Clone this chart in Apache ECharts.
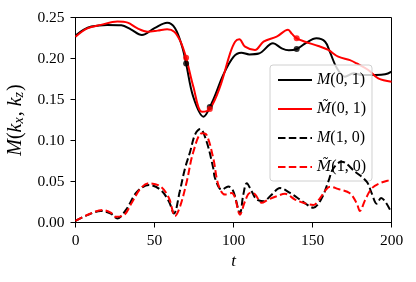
<!DOCTYPE html>
<html><head><meta charset="utf-8">
<script src="https://cdn.jsdelivr.net/npm/echarts@6/dist/echarts.min.js"></script>
<style>html,body{margin:0;padding:0;background:#fff}#c{width:416px;height:282px}</style>
</head><body><div id="c"></div>
<script>
// M(0,1) solid black
const tM01 = [0, 5, 10, 20, 29, 35, 42, 50, 58, 63, 67.5, 70, 74.5, 81, 87, 93.5, 100, 105, 110, 116, 125, 130.5, 135, 140, 145.5, 152.5, 158, 161, 165.5, 170.5, 176, 181, 190, 196, 200];
const vM01 = [0.228, 0.235, 0.239, 0.241, 0.2405, 0.2356, 0.2287, 0.237, 0.2437, 0.237, 0.2144, 0.194, 0.1534, 0.129, 0.149, 0.18, 0.202, 0.207, 0.205, 0.206, 0.2185, 0.2124, 0.210, 0.2116, 0.2185, 0.2246, 0.2205, 0.208, 0.188, 0.1778, 0.182, 0.180, 0.180, 0.1807, 0.184];
// M~(0,1) solid red
const tMt01 = [0, 7.5, 16, 26.5, 33, 39, 45.5, 52, 58, 62.5, 66.5, 70, 74.6, 80, 85, 91.5, 97.8, 101, 103.7, 107.3, 113.6, 119, 127.3, 134.5, 137, 140, 145.3, 153.7, 160, 166.3, 173.7, 178, 185.3, 191.6, 200];
const vMt01 = [0.2266, 0.2368, 0.241, 0.245, 0.2437, 0.237, 0.2327, 0.234, 0.2356, 0.2327, 0.2205, 0.201, 0.1656, 0.135, 0.1384, 0.1656, 0.206, 0.2205, 0.2234, 0.2144, 0.2104, 0.2205, 0.2266, 0.235, 0.230, 0.2246, 0.2205, 0.2152, 0.2104, 0.2022, 0.198, 0.194, 0.186, 0.1758, 0.1717];
// M(1,0) dashed black
const tM10 = [0, 7.5, 16, 22.3, 26.5, 31.8, 39, 46.5, 54, 59.2, 62.3, 66, 69.3, 72.5, 75.6, 79, 83, 87.2, 88.3, 92.5, 96.7, 99.9, 104.1, 106.2, 108.4, 111.5, 114.7, 118.9, 124.2, 129.4, 135.8, 142, 145.3, 150.5, 155.8, 160, 163.2, 168.5, 176.9, 184.3, 187.5, 190.6, 193.4, 199.7];
const vM10 = [0.002, 0.009, 0.014, 0.011, 0.005, 0.015, 0.0376, 0.0457, 0.0396, 0.0254, 0.011, 0.038, 0.066, 0.086, 0.107, 0.114, 0.0985, 0.066, 0.054, 0.040, 0.044, 0.038, 0.0116, 0.034, 0.048, 0.038, 0.028, 0.026, 0.034, 0.042, 0.036, 0.028, 0.0234, 0.018, 0.0295, 0.0498, 0.066, 0.0741, 0.062, 0.0498, 0.0356, 0.023, 0.030, 0.013];
// M~(1,0) dashed red
const tMt10 = [0, 9.6, 17, 22.3, 25.4, 30.7, 36, 41.3, 46.5, 54, 59.2, 63, 66.3, 70.4, 74.6, 80, 83, 87.2, 90.4, 94.6, 98.9, 101, 104.1, 107.3, 110.4, 113.6, 117.8, 122, 127.3, 132.6, 138.9, 144.2, 150.5, 154.7, 158.5, 161, 166, 173.7, 178, 180, 183.2, 187.5, 192.7, 199, 200];
const vMt10 = [0.002, 0.011, 0.0152, 0.012, 0.007, 0.009, 0.0254, 0.0417, 0.0478, 0.0437, 0.0295, 0.008, 0.0203, 0.0498, 0.0863, 0.1088, 0.1067, 0.0783, 0.046, 0.034, 0.036, 0.030, 0.0095, 0.026, 0.036, 0.0345, 0.024, 0.028, 0.032, 0.035, 0.028, 0.024, 0.0213, 0.0295, 0.040, 0.0437, 0.041, 0.0356, 0.0234, 0.014, 0.027, 0.0417, 0.048, 0.0518, 0.052];
// markers
const tMarkBlack = [70, 85, 140];
const vMarkBlack = [0.194, 0.141, 0.2116];
const tMarkRed = [70, 85, 140];
const vMarkRed = [0.201, 0.1384, 0.2246];
const xTicks = [0, 50, 100, 150, 200];
const yTicks = [0.00, 0.05, 0.10, 0.15, 0.20, 0.25];

const zip = (a, b) => a.map((t, i) => [t, b[i]]);
const FONT = 'Liberation Serif';
const dash = [7.5, 3.3];
const names = {
  M01: '{i|M}(0, 1)', Mt01: '{t|M\u0303}(0, 1)', M10: '{i|M}(1, 0)', Mt10: '{t|M\u0303}(1, 0)'
};
const chart = echarts.init(document.getElementById('c'), null, {renderer: 'canvas'});
chart.setOption({
  animation: false,
  backgroundColor: '#fff',
  grid: {left: 75.5, right: 24.5, top: 17.5, bottom: 59.5, show: true, borderColor: '#000', borderWidth: 1,
         containLabel: false, outerBoundsMode: 'none'},
  xAxis: {
    type: 'value', min: xTicks[0], max: xTicks[xTicks.length - 1], interval: 50,
    name: 't', nameLocation: 'middle', nameGap: 30,
    nameTextStyle: {fontFamily: FONT, fontStyle: 'italic', fontSize: 17, color: '#000'},
    axisLine: {lineStyle: {color: '#000', width: 1}},
    axisTick: {show: true, length: 5, lineStyle: {color: '#000'}},
    axisLabel: {fontFamily: FONT, fontSize: 15.5, color: '#000', margin: 10},
    splitLine: {show: false}
  },
  yAxis: {
    type: 'value', min: yTicks[0], max: yTicks[yTicks.length - 1], interval: 0.05,
    name: '{i|M}({i|k}{s|x}, {i|k}{s|z})', nameLocation: 'middle', nameGap: 47, nameRotate: 90,
    nameTextStyle: {fontFamily: FONT, fontSize: 20, color: '#000',
      rich: {i: {fontFamily: FONT, fontStyle: 'italic', fontSize: 20, color: '#000'},
             s: {fontFamily: FONT, fontStyle: 'italic', fontSize: 14, color: '#000', padding: [8, 1, 0, 0]}}},
    axisLine: {show: true, lineStyle: {color: '#000', width: 1}},
    axisTick: {show: true, length: 5, lineStyle: {color: '#000'}},
    axisLabel: {fontFamily: FONT, fontSize: 15.5, color: '#000', margin: 11, formatter: v => v.toFixed(2)},
    splitLine: {show: false}
  },
  legend: {
    orient: 'vertical', left: 270, top: 65,
    data: ['M01', 'Mt01', 'M10', 'Mt10'],
    formatter: n => names[n],
    itemWidth: 34, itemHeight: 14, itemGap: 13,
    padding: [7, 6, 6, 7],
    itemStyle: {opacity: 0},
    backgroundColor: 'rgba(255,255,255,0.8)', borderColor: '#d0d0d0', borderWidth: 1, borderRadius: 3,
    textStyle: {fontFamily: FONT, fontSize: 16, color: '#000',
      rich: {i: {fontFamily: FONT, fontStyle: 'italic', fontSize: 16, color: '#000'},
             t: {fontFamily: 'DejaVu Serif', fontStyle: 'italic', fontSize: 14, color: '#000'}}}
  },
  series: [
    {name: 'M01', type: 'line', data: zip(tM01, vM01), smooth: 0.35, symbol: 'none', z: 2,
     lineStyle: {color: '#000', width: 2}, itemStyle: {color: '#000'}},
    {name: 'Mt01', type: 'line', data: zip(tMt01, vMt01), smooth: 0.35, symbol: 'none', z: 3,
     lineStyle: {color: '#ff0000', width: 2}, itemStyle: {color: '#ff0000'}},
    {name: 'M10', type: 'line', data: zip(tM10, vM10), smooth: 0.35, symbol: 'none', z: 4,
     lineStyle: {color: '#000', width: 2, type: dash}, itemStyle: {color: '#000'}},
    {name: 'Mt10', type: 'line', data: zip(tMt10, vMt10), smooth: 0.35, symbol: 'none', z: 5,
     lineStyle: {color: '#ff0000', width: 2, type: dash}, itemStyle: {color: '#ff0000'}},
    {name: 'mb', type: 'scatter', data: zip(tMarkBlack, vMarkBlack), symbolSize: 6, z: 6, itemStyle: {color: '#000'}},
    {name: 'mr', type: 'scatter', data: zip(tMarkRed, vMarkRed), symbolSize: 6, z: 7, itemStyle: {color: '#ff0000'}}
  ]
});
</script></body></html>
